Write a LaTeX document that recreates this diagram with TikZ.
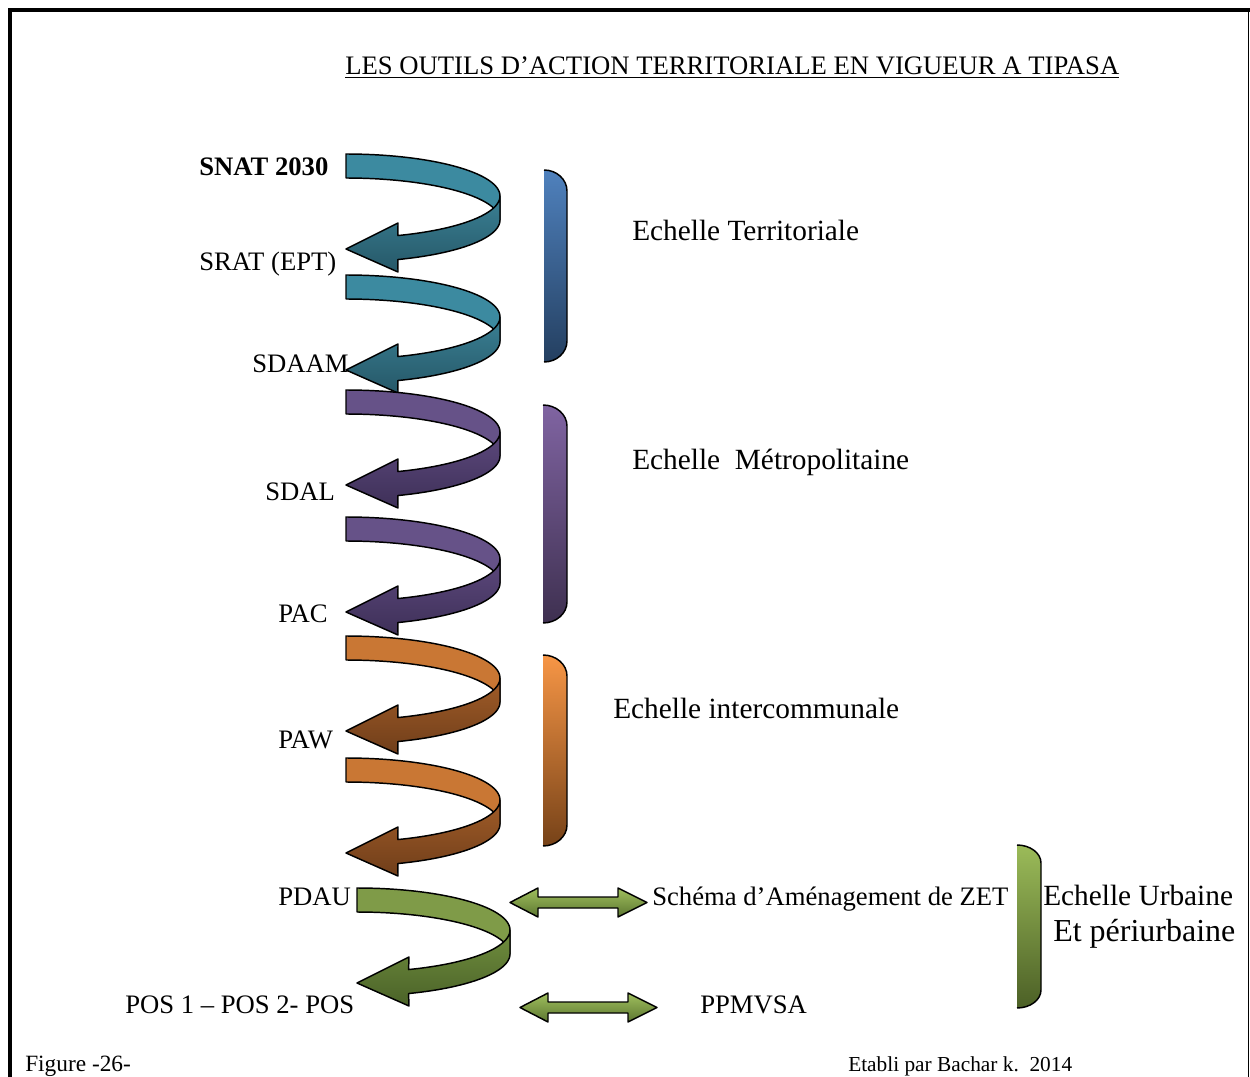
\documentclass[tikz,border=0pt]{standalone}
\usepackage{fontspec}
\setmainfont{Liberation Serif}
\definecolor{tealB}{RGB}{60,138,160}
\definecolor{tealF}{RGB}{58,128,148}
\definecolor{tealD}{RGB}{38,88,104}
\definecolor{purB}{RGB}{102,82,136}
\definecolor{purF}{RGB}{92,72,124}
\definecolor{purD}{RGB}{62,48,88}
\definecolor{oraB}{RGB}{201,119,52}
\definecolor{oraF}{RGB}{160,92,40}
\definecolor{oraD}{RGB}{112,62,26}
\definecolor{grnB}{RGB}{127,155,72}
\definecolor{grnF}{RGB}{112,142,62}
\definecolor{grnD}{RGB}{74,98,40}
\definecolor{brBlueT}{RGB}{79,129,189}
\definecolor{brBlueB}{RGB}{36,63,96}
\definecolor{brPurT}{RGB}{128,100,162}
\definecolor{brPurB}{RGB}{62,48,80}
\definecolor{brOraT}{RGB}{247,150,70}
\definecolor{brOraB}{RGB}{118,66,24}
\definecolor{brGrnT}{RGB}{155,187,89}
\definecolor{brGrnB}{RGB}{76,96,38}
\definecolor{dblT}{RGB}{160,192,94}
\definecolor{dblB}{RGB}{92,118,48}
% curved arrow: #1 left x, #2 top y, #3 width, #4 back colour, #5/#6 front top/bottom colours
\newcommand\curvedarrowshape[6]{%
  \path[outl,fill=#4]
    plot[domain=-90:0,samples=40] ({#1+#3*cos(\x)},{#2+42+42*sin(\x)})
    -- ({#1+#3},{#2+66})
    -- plot[domain=0:-90,samples=40] ({#1+#3*cos(\x)},{#2+66+42*sin(\x)})
    -- cycle;
  \path[outl,top color=#5,bottom color=#6]
    ({#1+#3},{#2+42})
    -- plot[domain=0:70.3,samples=40] ({#1+#3*cos(\x)},{#2+42+42*sin(\x)})
    -- ({#1+52},{#2+69}) -- (#1,{#2+95}) -- ({#1+52},{#2+118})
    -- plot[domain=70.3:0,samples=40] ({#1+#3*cos(\x)},{#2+66+42*sin(\x)})
    -- cycle;
}
% bracket: #1 left, #2 right, #3 top, #4 bottom, #5 corner height, #6 top colour, #7 bottom colour
\newcommand\bracketshape[7]{%
  \shade[top color=#6,bottom color=#7]
    (#1,#3) .. controls ({#1+0.55*(#2-#1)},#3) and (#2,{#3+0.45*#5}) .. (#2,{#3+#5})
    -- (#2,{#4-#5}) .. controls (#2,{#4-0.45*#5}) and ({#1+0.55*(#2-#1)},#4) .. (#1,#4) -- cycle;
  \draw[outl]
    (#1,#3) .. controls ({#1+0.55*(#2-#1)},#3) and (#2,{#3+0.45*#5}) .. (#2,{#3+#5})
    -- (#2,{#4-#5}) .. controls (#2,{#4-0.45*#5}) and ({#1+0.55*(#2-#1)},#4) .. (#1,#4);
}
% double arrow: #1 left tip x, #2 right tip x, #3 centre y
\newcommand\dblarrowshape[3]{%
  \path[outl,top color=dblT,bottom color=dblB]
    (#1,#3) -- ({#1+28},{#3-14.5}) -- ({#1+28},{#3-5.5}) -- ({#2-29},{#3-5.5})
    -- ({#2-29},{#3-14.5}) -- (#2,#3) -- ({#2-29},{#3+14.5}) -- ({#2-29},{#3+5.5})
    -- ({#1+28},{#3+5.5}) -- ({#1+28},{#3+14.5}) -- cycle;
}
\begin{document}
\begin{tikzpicture}[x=0.75pt,y=-0.75pt,
  outl/.style={draw=black,line width=1.1pt,line join=round},
  lbl/.style={inner sep=0pt,anchor=base west,font=\fontsize{20}{24}\selectfont},
  ech/.style={inner sep=0pt,anchor=base west,font=\fontsize{22}{26}\selectfont},
  foot/.style={inner sep=0pt,anchor=base west,font=\fontsize{17.5}{20}\selectfont}]
\useasboundingbox (0,0) rectangle (1250,1077);
\fill[white] (0,0) rectangle (1250,1077);
% frame
\draw[line width=3pt] (9.5,1077) -- (9.5,10) -- (1250,10);
\draw[line width=1.4pt] (1248.5,10) -- (1248.5,1077);

% title
\node[lbl] (title) at (345,75) {\underline{LES OUTILS D’ACTION TERRITORIALE EN VIGUEUR A TIPASA}};

% curved arrows
\curvedarrowshape{346}{154}{154}{tealB}{tealF}{tealD}
\curvedarrowshape{346}{275}{154}{tealB}{tealF}{tealD}
\curvedarrowshape{346}{390}{154}{purB}{purF}{purD}
\curvedarrowshape{346}{517}{154}{purB}{purF}{purD}
\curvedarrowshape{346}{636}{154}{oraB}{oraF}{oraD}
\curvedarrowshape{346}{758}{154}{oraB}{oraF}{oraD}
\curvedarrowshape{357}{888}{153}{grnB}{grnF}{grnD}

% brackets
\bracketshape{544}{567}{170}{362}{21}{brBlueT}{brBlueB}
\bracketshape{543}{567}{405}{623}{21}{brPurT}{brPurB}
\bracketshape{543}{567}{655}{846}{21}{brOraT}{brOraB}
\bracketshape{1017}{1041}{845}{1008}{18}{brGrnT}{brGrnB}

% double arrows
\dblarrowshape{510}{647}{902.5}
\dblarrowshape{520}{657}{1007.5}

% left labels
\node[lbl,font=\fontsize{20}{24}\selectfont\bfseries] (snat) at (199,176) {SNAT 2030};
\node[lbl] (srat) at (199,271) {SRAT (EPT)};
\node[lbl] (sdaam) at (252,372) {SDAAM};
\node[lbl] (sdal) at (265,500) {SDAL};
\node[lbl] (pac) at (278,622) {PAC};
\node[lbl] (paw) at (278,748) {PAW};
\node[lbl] (pdau) at (278,905) {PDAU};
\node[lbl] (pos) at (125,1013) {POS 1 – POS 2- POS};

% right labels
\node[ech] (ter) at (632,240) {Echelle Territoriale};
\node[ech] (met) at (632,469) {Echelle\ \ Métropolitaine};
\node[ech] (inter) at (613,718) {Echelle intercommunale};
\node[lbl] (zet) at (652,905) {Schéma d’Aménagement de ZET};
\node[lbl] (ppm) at (700,1013) {PPMVSA};
\node[ech] (urb) at (1043,905) {Echelle Urbaine};
\node[ech,font=\fontsize{24}{28}\selectfont] (peri) at (1053,941) {Et périurbaine};

% footer
\node[foot] (fig) at (25,1071) {Figure -26-};
\node[foot,font=\fontsize{16}{19}\selectfont] (etab) at (848,1071) {Etabli par Bachar k.\ \ 2014};
\end{tikzpicture}
\end{document}
